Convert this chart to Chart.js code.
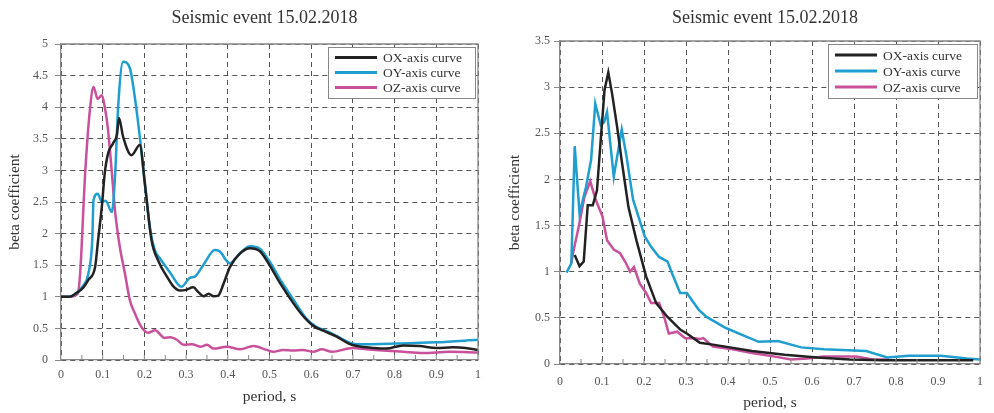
<!DOCTYPE html>
<html>
<head>
<meta charset="utf-8">
<script src="https://cdn.jsdelivr.net/npm/chart.js@4.4.1/dist/chart.umd.min.js"></script>
<style>
  body { margin: 0; background: #fff; }
  canvas { position: absolute; top: 0; }
</style>
</head>
<body>
<canvas id="left" width="497" height="413" style="left:0"></canvas>
<canvas id="right" width="497" height="413" style="left:497px"></canvas>
<script>
// data
const chartTitle = "Seismic event 15.02.2018";
const seriesNames = ["OX-axis curve", "OY-axis curve", "OZ-axis curve"];
const seriesColors = ["#222222", "#1f9ecf", "#c9509a"];

const xTicks = [0, 0.1, 0.2, 0.3, 0.4, 0.5, 0.6, 0.7, 0.8, 0.9, 1];
const yTicksLeft = [0, 0.5, 1, 1.5, 2, 2.5, 3, 3.5, 4, 4.5, 5];
const yTicksRight = [0, 0.5, 1, 1.5, 2, 2.5, 3, 3.5];

// left chart
const leftOxPeriod = [0, 0.02, 0.035, 0.054, 0.066, 0.082, 0.089, 0.098, 0.105, 0.113, 0.125, 0.134, 0.139, 0.149, 0.169, 0.189, 0.201, 0.217, 0.234, 0.254, 0.27, 0.285, 0.30, 0.317, 0.33, 0.342, 0.354, 0.366, 0.377, 0.39, 0.405, 0.43, 0.453, 0.477, 0.501, 0.525, 0.557, 0.58, 0.605, 0.63, 0.661, 0.69, 0.71, 0.75, 0.78, 0.82, 0.86, 0.90, 0.94, 0.97, 1];
const leftOxBeta = [1, 1, 1.05, 1.15, 1.27, 1.48, 1.9, 2.43, 2.96, 3.27, 3.43, 3.56, 3.83, 3.53, 3.24, 3.40, 2.8, 1.9, 1.56, 1.32, 1.16, 1.10, 1.11, 1.15, 1.07, 1.01, 1.05, 1.01, 1.02, 1.21, 1.47, 1.69, 1.77, 1.72, 1.49, 1.22, 0.90, 0.70, 0.54, 0.46, 0.37, 0.26, 0.22, 0.19, 0.18, 0.23, 0.22, 0.19, 0.20, 0.19, 0.16];

const leftOyPeriod = [0, 0.02, 0.034, 0.05, 0.066, 0.075, 0.078, 0.088, 0.098, 0.107, 0.122, 0.13, 0.137, 0.149, 0.165, 0.177, 0.189, 0.201, 0.213, 0.225, 0.237, 0.261, 0.289, 0.309, 0.321, 0.341, 0.369, 0.38, 0.405, 0.429, 0.453, 0.477, 0.501, 0.525, 0.557, 0.589, 0.613, 0.64, 0.661, 0.69, 0.71, 0.8, 0.9, 1];
const leftOyBeta = [1, 1, 1.04, 1.15, 1.38, 1.9, 2.53, 2.63, 2.5, 2.52, 2.34, 2.96, 4.0, 4.72, 4.62, 4.16, 3.53, 2.8, 2.1, 1.74, 1.61, 1.39, 1.16, 1.30, 1.32, 1.50, 1.74, 1.72, 1.53, 1.69, 1.80, 1.76, 1.55, 1.28, 0.96, 0.65, 0.52, 0.45, 0.38, 0.28, 0.25, 0.26, 0.28, 0.32];

const leftOzPeriod = [0, 0.02, 0.04, 0.046, 0.058, 0.07, 0.078, 0.088, 0.098, 0.105, 0.112, 0.122, 0.13, 0.141, 0.153, 0.165, 0.177, 0.193, 0.209, 0.225, 0.249, 0.262, 0.278, 0.294, 0.314, 0.334, 0.35, 0.366, 0.397, 0.43, 0.461, 0.493, 0.509, 0.533, 0.557, 0.58, 0.605, 0.625, 0.65, 0.70, 0.733, 0.82, 0.868, 0.932, 1];
const leftOzBeta = [1, 1, 1.05, 1.38, 2.96, 4.0, 4.32, 4.13, 4.19, 4.0, 3.69, 2.96, 2.33, 1.79, 1.38, 0.95, 0.74, 0.52, 0.43, 0.47, 0.35, 0.36, 0.32, 0.24, 0.25, 0.21, 0.24, 0.18, 0.21, 0.17, 0.22, 0.16, 0.13, 0.16, 0.15, 0.16, 0.13, 0.17, 0.13, 0.19, 0.17, 0.13, 0.11, 0.13, 0.12];

// right chart
const rightOxPeriod = [0.035, 0.0465, 0.0565, 0.066, 0.078, 0.088, 0.097, 0.106, 0.115, 0.124, 0.136, 0.147, 0.163, 0.182, 0.205, 0.229, 0.256, 0.287, 0.302, 0.333, 0.364, 0.457, 0.535, 0.612, 0.69, 0.767, 0.984];
const rightOxBeta = [1.18, 1.06, 1.11, 1.72, 1.72, 1.88, 2.43, 2.97, 3.16, 2.93, 2.57, 2.2, 1.70, 1.34, 0.95, 0.66, 0.51, 0.37, 0.33, 0.23, 0.21, 0.14, 0.10, 0.07, 0.05, 0.04, 0.04];

const rightOyPeriod = [0.0155, 0.027, 0.035, 0.0465, 0.062, 0.074, 0.084, 0.097, 0.105, 0.112, 0.128, 0.147, 0.158, 0.174, 0.202, 0.217, 0.236, 0.256, 0.267, 0.286, 0.302, 0.33, 0.349, 0.395, 0.442, 0.473, 0.519, 0.574, 0.628, 0.729, 0.779, 0.83, 0.907, 0.969, 1];
const rightOyBeta = [0.99, 1.09, 2.36, 1.63, 1.92, 2.21, 2.82, 2.59, 2.62, 2.73, 2.03, 2.54, 2.26, 1.78, 1.38, 1.27, 1.16, 1.11, 0.98, 0.77, 0.77, 0.59, 0.51, 0.39, 0.30, 0.24, 0.25, 0.18, 0.16, 0.14, 0.07, 0.09, 0.09, 0.06, 0.05];

const rightOzPeriod = [0.027, 0.031, 0.0465, 0.058, 0.072, 0.085, 0.101, 0.112, 0.128, 0.143, 0.155, 0.167, 0.176, 0.19, 0.205, 0.217, 0.236, 0.248, 0.259, 0.279, 0.298, 0.32, 0.333, 0.341, 0.364, 0.411, 0.457, 0.512, 0.55, 0.589, 0.628, 0.705, 0.744, 0.783];
const rightOzBeta = [1.09, 1.2, 1.53, 1.81, 1.98, 1.78, 1.60, 1.34, 1.24, 1.20, 1.11, 1.00, 1.05, 0.87, 0.77, 0.66, 0.66, 0.51, 0.33, 0.35, 0.28, 0.28, 0.27, 0.28, 0.19, 0.16, 0.12, 0.08, 0.05, 0.06, 0.08, 0.08, 0.05, 0.05];

Chart.defaults.font.family = '"Liberation Serif", "Times New Roman", serif';
Chart.defaults.color = "#555";

function pairs(xs, ys) {
  return xs.map((x, i) => ({ x: x, y: ys[i] }));
}

// title, white legend box, closing frame and inner minor ticks
const decorations = {
  id: "decorations",
  afterDraw(chart, args, opts) {
    const { ctx, chartArea: a } = chart;
    const xs = chart.scales.x;
    ctx.save();
    ctx.strokeStyle = "#888";
    ctx.lineWidth = 1.3;
    ctx.beginPath();
    ctx.moveTo(a.left, a.top);
    ctx.lineTo(a.right, a.top);
    ctx.lineTo(a.right, a.bottom);
    ctx.stroke();

    // minor ticks every 0.05 pointing up into the plot
    ctx.lineWidth = 1;
    ctx.beginPath();
    for (let k = 1; k < 20; k++) {
      const px = xs.getPixelForValue(k * 0.05);
      ctx.moveTo(px, a.bottom);
      ctx.lineTo(px, a.bottom - 5);
    }
    ctx.stroke();

    // title
    ctx.fillStyle = "#333";
    ctx.font = '18px "Liberation Serif", serif';
    ctx.textAlign = "center";
    ctx.textBaseline = "middle";
    ctx.fillText(chartTitle, (a.left + a.right) / 2 - 5, 18);

    // legend
    const right = a.right - opts.inset;
    const left = right - opts.width;
    const top = a.top + opts.inset;
    ctx.fillStyle = "#fff";
    ctx.fillRect(left, top, opts.width, opts.height);
    ctx.strokeStyle = "#888";
    ctx.lineWidth = 1;
    ctx.strokeRect(left + 0.5, top + 0.5, opts.width, opts.height);
    ctx.font = '13.5px "Liberation Serif", serif';
    ctx.textAlign = "left";
    chart.data.datasets.forEach((ds, i) => {
      const y = top + opts.first + i * opts.step;
      ctx.strokeStyle = ds.borderColor;
      ctx.lineWidth = 3;
      ctx.beginPath();
      ctx.moveTo(left + 7, y);
      ctx.lineTo(left + 49, y);
      ctx.stroke();
      ctx.fillStyle = "#333";
      ctx.fillText(ds.label, left + 55, y + 1);
    });
    ctx.restore();
  }
};

function makeChart(id, series, yTicks, geo) {
  const datasets = series.map((s, i) => ({
    label: seriesNames[i],
    data: pairs(s[0], s[1]),
    borderColor: seriesColors[i],
    borderWidth: 2.5,
    pointRadius: 0,
    fill: false,
    tension: geo.smooth ? 0.4 : 0,
    cubicInterpolationMode: geo.smooth ? "monotone" : "default",
    order: i
  }));
  return new Chart(document.getElementById(id), {
    type: "line",
    data: { datasets: datasets },
    options: {
      responsive: false,
      animation: false,
      layout: { padding: { left: 0, top: geo.top, right: geo.right, bottom: 0 } },
      plugins: {
        legend: { display: false },
        tooltip: { enabled: false },
        decorations: geo.legend
      },
      scales: {
        x: {
          type: "linear",
          min: 0,
          max: 1,
          afterBuildTicks: s => { s.ticks = xTicks.map(v => ({ value: v })); },
          afterFit: s => { s.height = geo.xHeight; },
          ticks: { font: { size: 12 }, padding: geo.xPad, maxRotation: 0, callback: v => String(v) },
          grid: { color: "#555", lineWidth: 1, drawTicks: false },
          border: { display: true, color: "#888", width: 1.3, dash: [5, 4] },
          title: { display: true, text: "period, s", color: "#333", font: { size: 15.5 }, padding: { top: 0, bottom: geo.xTitle } }
        },
        y: {
          min: 0,
          max: yTicks[yTicks.length - 1],
          afterBuildTicks: s => { s.ticks = yTicks.map(v => ({ value: v })); },
          afterFit: s => { s.width = geo.yWidth; },
          ticks: { font: { size: 12 }, padding: geo.yPad, callback: v => String(v) },
          grid: { color: "#555", lineWidth: 1, tickLength: 6, tickColor: "#888", tickBorderDash: [] },
          border: { display: true, color: "#888", width: 1.3, dash: [5, 4] },
          title: { display: true, text: "beta coefficient", color: "#333", font: { size: 15.5 }, padding: { top: geo.yTitle, bottom: 0 } }
        }
      }
    },
    plugins: [decorations]
  });
}

makeChart("left",
  [[leftOxPeriod, leftOxBeta], [leftOyPeriod, leftOyBeta], [leftOzPeriod, leftOzBeta]],
  yTicksLeft,
  { smooth: true, top: 44, right: 19, xHeight: 53, yWidth: 61, xPad: 8, yPad: 7, xTitle: 7, yTitle: 6,
    legend: { inset: 3, width: 147, height: 51, first: 10.5, step: 15 } });

makeChart("right",
  [[rightOxPeriod, rightOxBeta], [rightOyPeriod, rightOyBeta], [rightOzPeriod, rightOzBeta]],
  yTicksRight,
  { smooth: false, top: 41, right: 4, xHeight: 49, yWidth: 63, xPad: 11, yPad: 4, xTitle: 1, yTitle: 9,
    legend: { inset: 3, width: 149, height: 54, first: 11, step: 16 } });
</script>
</body>
</html>
